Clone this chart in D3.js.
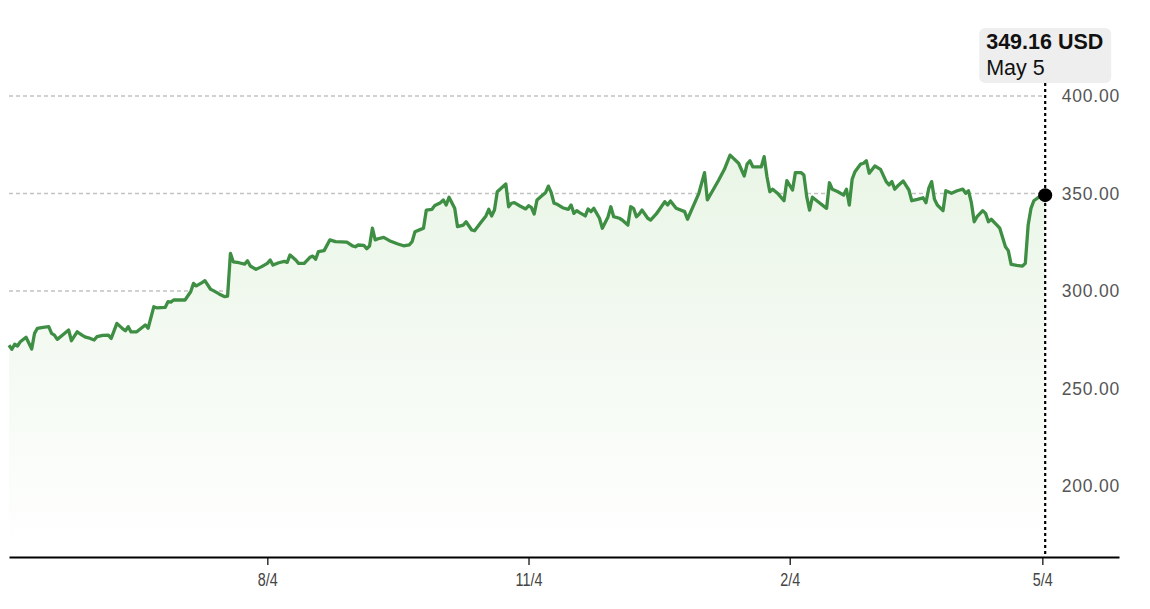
<!DOCTYPE html>
<html>
<head>
<meta charset="utf-8">
<script src="https://cdn.jsdelivr.net/npm/d3@7"></script>
<style>
  html, body { margin: 0; padding: 0; background: #fff; }
  svg { display: block; font-family: "Liberation Sans", Arial, sans-serif; }
</style>
</head>
<body>
<div id="chart"></div>
<script>
// daily closes
const dates = [
  "2022-05-05","2022-05-06","2022-05-07","2022-05-08","2022-05-09","2022-05-11","2022-05-13","2022-05-14","2022-05-15","2022-05-17",
  "2022-05-19","2022-05-20","2022-05-21","2022-05-22","2022-05-24","2022-05-26","2022-05-27","2022-05-29","2022-05-31","2022-06-01",
  "2022-06-02","2022-06-04","2022-06-05","2022-06-07","2022-06-09","2022-06-10","2022-06-12","2022-06-14","2022-06-15","2022-06-16",
  "2022-06-17","2022-06-19","2022-06-21","2022-06-22","2022-06-23","2022-06-25","2022-06-26","2022-06-29","2022-06-30","2022-07-01",
  "2022-07-02","2022-07-06","2022-07-08","2022-07-09","2022-07-10","2022-07-12","2022-07-13","2022-07-15","2022-07-16","2022-07-18",
  "2022-07-20","2022-07-21","2022-07-22","2022-07-23","2022-07-25","2022-07-27","2022-07-28","2022-07-29","2022-07-31","2022-08-02",
  "2022-08-04","2022-08-05","2022-08-06","2022-08-08","2022-08-10","2022-08-11","2022-08-12","2022-08-14","2022-08-15","2022-08-17",
  "2022-08-19","2022-08-20","2022-08-21","2022-08-22","2022-08-24","2022-08-26","2022-08-28","2022-09-01","2022-09-03","2022-09-04",
  "2022-09-05","2022-09-07","2022-09-08","2022-09-09","2022-09-10","2022-09-11","2022-09-12","2022-09-14","2022-09-16","2022-09-19",
  "2022-09-21","2022-09-23","2022-09-24","2022-09-25","2022-09-27","2022-09-28","2022-09-29","2022-10-01","2022-10-02","2022-10-04",
  "2022-10-05","2022-10-06","2022-10-07","2022-10-09","2022-10-10","2022-10-12","2022-10-13","2022-10-15","2022-10-16","2022-10-18",
  "2022-10-20","2022-10-21","2022-10-22","2022-10-23","2022-10-24","2022-10-27","2022-10-28","2022-10-29","2022-10-30","2022-11-01",
  "2022-11-03","2022-11-04","2022-11-05","2022-11-06","2022-11-07","2022-11-09","2022-11-10","2022-11-11","2022-11-12","2022-11-13",
  "2022-11-14","2022-11-16","2022-11-18","2022-11-19","2022-11-20","2022-11-21","2022-11-22","2022-11-24","2022-11-25","2022-11-26",
  "2022-11-27","2022-11-29","2022-11-30","2022-12-02","2022-12-03","2022-12-04","2022-12-06","2022-12-07","2022-12-09","2022-12-10",
  "2022-12-11","2022-12-12","2022-12-13","2022-12-14","2022-12-16","2022-12-17","2022-12-19","2022-12-22","2022-12-23","2022-12-24",
  "2022-12-26","2022-12-29","2022-12-30","2023-01-03","2023-01-05","2023-01-06","2023-01-08","2023-01-10","2023-01-12","2023-01-14",
  "2023-01-17","2023-01-19","2023-01-20","2023-01-21","2023-01-22","2023-01-25","2023-01-26","2023-01-27","2023-01-28","2023-01-29",
  "2023-01-31","2023-02-02","2023-02-03","2023-02-05","2023-02-06","2023-02-08","2023-02-09","2023-02-10","2023-02-11","2023-02-12",
  "2023-02-14","2023-02-17","2023-02-18","2023-02-19","2023-02-21","2023-02-23","2023-02-24","2023-02-25","2023-02-26","2023-02-27",
  "2023-03-01","2023-03-02","2023-03-03","2023-03-04","2023-03-06","2023-03-08","2023-03-10","2023-03-11","2023-03-12","2023-03-13",
  "2023-03-14","2023-03-16","2023-03-18","2023-03-19","2023-03-21","2023-03-23","2023-03-24","2023-03-25","2023-03-26","2023-03-27",
  "2023-03-28","2023-03-30","2023-03-31","2023-04-02","2023-04-04","2023-04-06","2023-04-07","2023-04-08","2023-04-09","2023-04-10",
  "2023-04-11","2023-04-13","2023-04-14","2023-04-15","2023-04-16","2023-04-18","2023-04-19","2023-04-21","2023-04-22","2023-04-23",
  "2023-04-25","2023-04-27","2023-04-28","2023-04-29","2023-04-30","2023-05-01","2023-05-03","2023-05-05"
]
const closes = [
  272.2,270.1,272.7,271.8,274.0,276.3,270.3,278.3,280.9,281.4,
  281.7,278.3,277.4,275.2,277.6,280.0,274.5,279.1,277.1,276.3,
  276.0,274.9,276.6,277.3,277.4,275.7,283.4,280.7,279.6,281.7,
  279.0,279.1,281.4,282.6,280.9,291.9,291.4,291.6,294.5,294.3,
  295.4,295.4,299.6,303.9,302.6,304.3,305.3,300.9,300.2,298.5,
  297.1,297.4,319.3,315.0,314.5,313.8,315.5,312.8,311.1,312.5,
  314.2,315.9,313.3,314.5,315.2,314.7,318.5,315.9,314.2,314.2,
  317.3,317.9,316.3,320.2,320.7,326.2,325.3,325.1,323.1,322.7,
  323.6,323.4,321.7,323.1,332.2,326.2,326.8,327.5,325.8,324.1,
  323.2,323.7,325.3,330.4,331.6,332.2,341.5,341.9,343.9,345.3,
  346.7,344.1,348.1,342.4,333.0,333.8,335.5,331.3,330.9,334.7,
  338.5,341.9,338.5,341.5,350.9,354.9,343.2,345.0,345.3,343.6,
  342.1,343.7,342.9,339.5,346.7,349.2,350.4,353.8,350.4,345.0,
  344.6,342.7,341.9,344.1,339.8,341.2,340.2,338.5,342.1,340.7,
  342.4,337.3,332.2,338.0,343.2,338.1,337.3,336.4,333.8,343.2,
  342.4,338.1,339.5,341.5,337.3,336.4,339.5,345.8,344.1,346.2,
  342.4,340.7,336.8,350.1,360.7,346.7,351.8,356.9,362.4,369.7,
  365.5,359.0,365.1,366.8,363.7,363.7,368.9,358.6,350.9,352.2,
  349.7,346.3,356.6,351.8,360.7,360.7,359.5,348.4,341.5,348.1,
  345.8,342.4,355.5,352.2,350.9,349.2,352.2,344.1,357.3,361.2,
  365.1,365.5,366.8,360.4,364.1,362.4,356.1,354.4,356.1,352.2,
  353.8,356.4,351.8,346.3,347.0,347.8,345.3,352.7,356.1,347.0,
  344.1,341.2,351.4,350.1,351.4,352.2,350.1,351.4,345.3,335.5,
  338.1,341.2,339.8,335.5,336.8,333.8,332.2,322.7,320.7,313.7,
  313.2,312.8,314.2,333.8,342.4,346.3,348.4,349.16
]
const yTicks = [200, 250, 300, 350, 400]
const xTicks = ["2022-08-04", "2022-11-04", "2023-02-04", "2023-05-04"]
const xDomain = ["2022-05-05", "2023-05-31"]
const yDomain = [163.6, 400]
const currency = "USD"

const W = 1150, H = 609
const parse = d3.timeParse("%Y-%m-%d")
const data = dates.map((d, i) => ({ date: parse(d), close: closes[i] }))
const last = data[data.length - 1]

const svg = d3.select("#chart")
  .append("svg")
  .attr("width", W)
  .attr("height", H)

const x = d3.scaleTime()
  .domain(xDomain.map(parse))
  .range([9, 1119])

const y = d3.scaleLinear()
  .domain(yDomain)
  .range([557, 96])

const baseY = y(yDomain[0])
const gridRight = 1043

// gradient under the line
const grad = svg.append("defs").append("linearGradient")
  .attr("id", "fillGrad")
  .attr("gradientUnits", "userSpaceOnUse")
  .attr("x1", 0).attr("x2", 0)
  .attr("y1", y(370)).attr("y2", baseY)
grad.append("stop").attr("offset", "0%").attr("stop-color", "#e9f5e6")
grad.append("stop").attr("offset", "100%").attr("stop-color", "#ffffff")

// grid lines
svg.append("g")
  .selectAll("line")
  .data(yTicks)
  .join("line")
  .attr("x1", 9)
  .attr("x2", gridRight)
  .attr("y1", d => y(d))
  .attr("y2", d => y(d))
  .attr("stroke", "#c2c2c2")
  .attr("stroke-width", 1.5)
  .attr("stroke-dasharray", "4,3")

// y labels on the right
svg.append("g")
  .selectAll("text")
  .data(yTicks)
  .join("text")
  .attr("x", 1120)
  .attr("y", d => y(d) + 6)
  .attr("text-anchor", "end")
  .attr("font-size", 17.5)
  .attr("letter-spacing", 0.8)
  .attr("fill", "#555")
  .text(d => d3.format(".2f")(d))

// area + line
svg.append("path")
  .datum(data)
  .attr("fill", "url(#fillGrad)")
  .attr("d", d3.area()
    .x(d => x(d.date))
    .y0(baseY)
    .y1(d => y(d.close)))

svg.append("path")
  .datum(data)
  .attr("fill", "none")
  .attr("stroke", "#3e8e43")
  .attr("stroke-width", 3.3)
  .attr("stroke-linejoin", "round")
  .attr("d", d3.line()
    .x(d => x(d.date))
    .y(d => y(d.close)))

// x axis
const xAxis = svg.append("g")
  .attr("transform", `translate(0,${baseY})`)
  .call(d3.axisBottom(x)
    .tickValues(xTicks.map(parse))
    .tickFormat(d3.timeFormat("%-m/%-d"))
    .tickSize(8)
    .tickSizeOuter(0)
    .tickPadding(9))
xAxis.select(".domain").attr("stroke", "#000").attr("stroke-width", 2)
xAxis.selectAll(".tick line").attr("stroke", "#000").attr("stroke-width", 1.2)
xAxis.selectAll(".tick text")
  .attr("font-size", 17.5)
  .attr("fill", "#444")
  .attr("transform", "scale(0.82,1)")

// hover marker on the last value
const lx = x(last.date)
svg.append("line")
  .attr("x1", lx).attr("x2", lx)
  .attr("y1", 83).attr("y2", baseY)
  .attr("stroke", "#000")
  .attr("stroke-width", 2.2)
  .attr("stroke-dasharray", "3,3")

svg.append("circle")
  .attr("cx", lx)
  .attr("cy", y(last.close))
  .attr("r", 7)
  .attr("fill", "#000")

const tip = svg.append("g").attr("transform", `translate(${lx - 66},28)`)
tip.append("rect")
  .attr("width", 132)
  .attr("height", 55)
  .attr("rx", 6)
  .attr("fill", "#eeeeee")
tip.append("text")
  .attr("x", 7).attr("y", 21)
  .attr("font-size", 21.5)
  .attr("font-weight", "bold")
  .attr("fill", "#111")
  .text(`${d3.format(".2f")(last.close)} ${currency}`)
tip.append("text")
  .attr("x", 7).attr("y", 47)
  .attr("font-size", 21.5)
  .attr("fill", "#111")
  .text(d3.timeFormat("%b %-d")(last.date))
</script>
</body>
</html>
